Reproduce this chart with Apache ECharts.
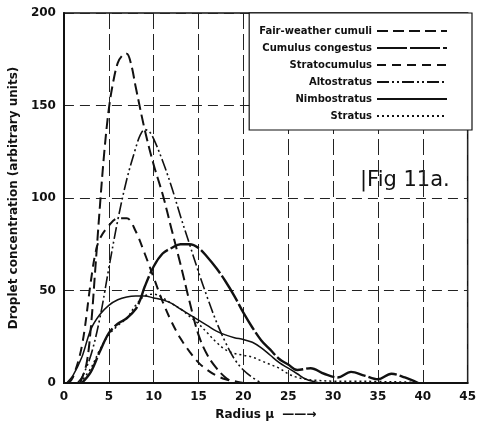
<!DOCTYPE html>
<html>
<head>
<meta charset="utf-8">
<script src="https://cdn.jsdelivr.net/npm/echarts@6/dist/echarts.min.js"></script>
<style>
  html, body { margin: 0; padding: 0; background: #fff; }
  #chart { width: 479px; height: 429px; }
</style>
</head>
<body>
<div id="chart"></div>
<script>
// series names (legend order)
const seriesNames = ['Fair-weather cumuli', 'Cumulus congestus', 'Stratocumulus', 'Altostratus', 'Nimbostratus', 'Stratus']

// radius (μ) and concentration, one pair of arrays per curve
const fairX = [1.8, 2.5, 3, 3.5, 4, 4.5, 5, 5.5, 6, 6.5, 7, 7.5, 8, 9, 10, 11, 12, 13, 14, 15, 16, 17, 18, 19]
const fairY = [0, 10, 30, 62, 95, 125, 148, 163, 173, 177, 178, 172, 160, 137, 118, 102, 83, 64, 44, 26, 15, 8, 3, 0]

const congX = [2, 3, 4, 5, 6, 7, 8, 8.5, 9, 10, 11, 12, 13, 14, 15, 16, 17, 18, 19, 20, 21, 22, 23, 24, 25, 26, 27.5, 29, 30.5, 32, 33.5, 35, 36.5, 38, 39.5]
const congY = [0, 6, 17, 27, 32, 35, 40, 45, 52, 63, 70, 73, 75, 75, 73, 68, 62, 55, 47, 38, 30, 23, 18, 13, 10, 7, 8, 5, 3, 6, 4, 2, 5, 3, 0]

const scX = [0.5, 1, 2, 3, 3.5, 4, 5, 6, 7, 8, 9, 10, 11, 12, 13, 14, 15, 16, 17, 18, 19, 20]
const scY = [0, 3, 20, 55, 70, 78, 85, 89, 89, 82, 70, 57, 44, 33, 24, 17, 11, 7, 4, 2, 1, 0]

const asX = [1.5, 2, 3, 4, 5, 6, 7, 8, 8.5, 9, 9.5, 10, 11, 12, 13, 14, 15, 16, 17, 18, 19, 20, 21, 22]
const asY = [0, 3, 15, 35, 62, 88, 110, 127, 134, 137, 136, 132, 120, 106, 90, 75, 60, 46, 33, 22, 13, 7, 3, 0]

const nsX = [0.3, 1, 2, 3, 4, 5, 6, 7, 8, 9, 10, 11, 12, 13, 14, 15, 16, 17, 18, 19, 20, 21, 22, 23, 24, 25, 26, 27, 28.5]
const nsY = [0, 4, 14, 29, 37, 42, 45, 46.5, 47, 47, 46, 45, 43, 40, 37, 34, 31, 28, 26, 24.5, 23.5, 22, 19, 15, 11, 8, 5, 2, 0]

const stX = [1.8, 3, 4, 5, 6, 7, 8, 9, 10, 11, 12, 13, 14, 15, 16, 17, 18, 19, 20, 21, 22, 23, 24, 25, 26, 27, 28, 30, 32, 35, 38, 40]
const stY = [0, 8, 18, 26, 31, 35, 42, 47, 48, 46, 43, 40, 36, 32, 27, 22, 18, 16, 15, 14, 12, 10, 8, 5, 3, 2, 1.5, 1, 1, 0.8, 0.5, 0]

// axis ticks
const xTicks = [0, 5, 10, 15, 20, 25, 30, 35, 40, 45]
const yTicks = [0, 50, 100, 150, 200]

function pairs(xs, ys) {
  return xs.map((x, i) => [x, ys[i]])
}

const ink = '#111'
const labelFont = 'DejaVu Sans'

function makeLine(name, xs, ys, type, width) {
  return {
    name: name,
    type: 'line',
    data: pairs(xs, ys),
    smooth: 0.35,
    symbol: 'none',
    // 线型
    lineStyle: {
      color: ink,
      width: width,
      type: type
    },
    itemStyle: { color: ink },
    silent: true
  }
}

const chart = echarts.init(document.getElementById('chart'))

const option = {
  backgroundColor: '#fff',
  animation: false,
  grid: {
    left: 61,
    right: 7,
    top: 13,
    bottom: 46,
    show: true,
    borderColor: ink,
    borderWidth: 1.5
  },
  legend: {
    orient: 'vertical',
    align: 'right',
    right: 7,
    top: 13,
    padding: [13, 24, 9, 10],
    itemGap: 7,
    itemWidth: 70,
    itemHeight: 10,
    borderColor: ink,
    borderWidth: 1.2,
    backgroundColor: '#fff',
    selectedMode: false,
    data: seriesNames,
    // 隐藏图例中间的圆点
    itemStyle: {
      color: 'rgba(0,0,0,0)',
      borderWidth: 0,
      opacity: 0
    },
    textStyle: {
      fontFamily: labelFont,
      fontSize: 10,
      fontWeight: 'bold',
      color: ink
    }
  },
  xAxis: {
    type: 'value',
    min: xTicks[0],
    max: xTicks[xTicks.length - 1],
    interval: 5,
    name: 'Radius μ  ——→',
    nameLocation: 'middle',
    nameGap: 26,
    nameTextStyle: {
      fontFamily: labelFont,
      fontSize: 12,
      fontWeight: 'bold',
      color: ink
    },
    axisLine: { lineStyle: { color: ink, width: 2 } },
    axisTick: { show: false },
    axisLabel: {
      margin: 8,
      fontFamily: labelFont,
      fontSize: 12,
      fontWeight: 'bold',
      color: ink
    },
    splitLine: {
      show: true,
      lineStyle: { color: '#222', width: 1, type: [16, 5] }
    }
  },
  yAxis: {
    type: 'value',
    min: yTicks[0],
    max: yTicks[yTicks.length - 1],
    interval: 50,
    name: 'Droplet concentration (arbitrary units)',
    nameLocation: 'middle',
    nameGap: 40,
    nameTextStyle: {
      fontFamily: labelFont,
      fontSize: 12,
      fontWeight: 'bold',
      color: ink
    },
    axisLine: { show: true, lineStyle: { color: ink, width: 2 } },
    axisTick: { show: false },
    axisLabel: {
      margin: 8,
      fontFamily: labelFont,
      fontSize: 12,
      fontWeight: 'bold',
      color: ink
    },
    splitLine: {
      show: true,
      lineStyle: { color: '#222', width: 1, type: [10, 6] }
    }
  },
  graphic: [
    {
      type: 'text',
      left: 360,
      top: 170,
      style: {
        text: '|Fig 11a.',
        fontFamily: 'DejaVu Sans',
        fontSize: 21,
        fill: ink
      }
    }
  ],
  series: [
    makeLine(seriesNames[0], fairX, fairY, [11, 5], 2),
    makeLine(seriesNames[1], congX, congY, [30, 3], 2.4),
    makeLine(seriesNames[2], scX, scY, [9, 6], 2),
    makeLine(seriesNames[3], asX, asY, [12, 3, 2, 3, 2, 3], 1.6),
    makeLine(seriesNames[4], nsX, nsY, 'solid', 1.5),
    makeLine(seriesNames[5], stX, stY, [2, 3], 1.5)
  ]
}

chart.setOption(option)
</script>
</body>
</html>
